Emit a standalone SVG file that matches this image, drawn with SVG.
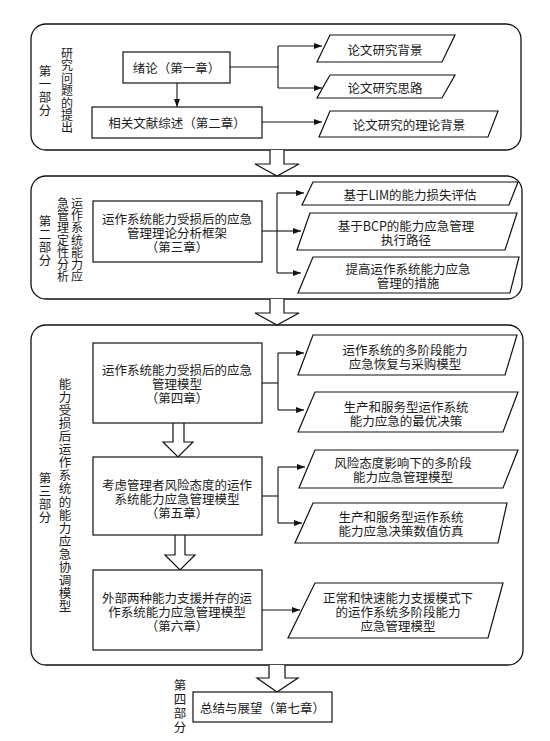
<svg xmlns="http://www.w3.org/2000/svg" width="550" height="741" viewBox="0 0 550 741">
<defs>
<marker id="ah" markerUnits="userSpaceOnUse" markerWidth="8" markerHeight="6" refX="8" refY="3" orient="auto">
<path d="M0,0 L8,3 L0,6 z" fill="#111"/>
</marker>
<style>
.sec{fill:none;stroke:#111;stroke-width:1.3}
.box{fill:#fff;stroke:#111;stroke-width:1.2}
.par{fill:#fff;stroke:#111;stroke-width:1.2}
.ln{fill:none;stroke:#111;stroke-width:1.1}
.arr{fill:none;stroke:#111;stroke-width:1.1;marker-end:url(#ah)}
.hol{fill:#fff;stroke:#111;stroke-width:1.2}
text{font-family:"Noto Sans CJK SC","Liberation Sans",sans-serif;font-size:12.5px;fill:#1a1a1a;text-anchor:middle;dominant-baseline:central}
</style>
</defs>
<rect width="550" height="741" fill="#fff"/>

<g id="section1">
<rect class="sec" x="31" y="24" width="490" height="126" rx="15"/>
<text><tspan x="45" y="70">第</tspan><tspan x="45" y="83">一</tspan><tspan x="45" y="96">部</tspan><tspan x="45" y="109">分</tspan></text>
<text style="font-size:12px"><tspan x="67" y="52">研</tspan><tspan x="67" y="64.4">究</tspan><tspan x="67" y="76.8">问</tspan><tspan x="67" y="89.2">题</tspan><tspan x="67" y="101.6">的</tspan><tspan x="67" y="114">提</tspan><tspan x="67" y="126.4">出</tspan></text>
</g>
<g id="section2">
<rect class="sec" x="31" y="176" width="491" height="123" rx="15"/>
<text><tspan x="45" y="220">第</tspan><tspan x="45" y="233">二</tspan><tspan x="45" y="246">部</tspan><tspan x="45" y="259">分</tspan></text>
<text style="font-size:12px"><tspan x="77" y="202">运</tspan><tspan x="77" y="214.2">作</tspan><tspan x="77" y="226.4">系</tspan><tspan x="77" y="238.6">统</tspan><tspan x="77" y="250.8">能</tspan><tspan x="77" y="263">力</tspan><tspan x="77" y="275.2">应</tspan></text>
<text style="font-size:12px"><tspan x="63" y="202">急</tspan><tspan x="63" y="214.2">管</tspan><tspan x="63" y="226.4">理</tspan><tspan x="63" y="238.6">定</tspan><tspan x="63" y="250.8">性</tspan><tspan x="63" y="263">分</tspan><tspan x="63" y="275.2">析</tspan></text>
</g>
<g id="section3">
<rect class="sec" x="31" y="325" width="492" height="340" rx="15"/>
<text><tspan x="45" y="477">第</tspan><tspan x="45" y="490">三</tspan><tspan x="45" y="503">部</tspan><tspan x="45" y="516">分</tspan></text>
<text><tspan x="65" y="383">能</tspan><tspan x="65" y="396.06">力</tspan><tspan x="65" y="409.12">受</tspan><tspan x="65" y="422.18">损</tspan><tspan x="65" y="435.24">后</tspan><tspan x="65" y="448.3">运</tspan><tspan x="65" y="461.36">作</tspan><tspan x="65" y="474.42">系</tspan><tspan x="65" y="487.48">统</tspan><tspan x="65" y="500.54">的</tspan><tspan x="65" y="513.6">能</tspan><tspan x="65" y="526.66">力</tspan><tspan x="65" y="539.72">应</tspan><tspan x="65" y="552.78">急</tspan><tspan x="65" y="565.84">协</tspan><tspan x="65" y="578.9">调</tspan><tspan x="65" y="591.96">模</tspan><tspan x="65" y="605">型</tspan></text>
</g>
<g id="section4">
<text><tspan x="180" y="684">第</tspan><tspan x="180" y="698">四</tspan><tspan x="180" y="712">部</tspan><tspan x="180" y="726">分</tspan></text>
</g>

<g id="connectors">
<line class="arr" x1="177" y1="83" x2="177" y2="107"/>
<polyline class="ln" points="230,67 278,67"/>
<line class="ln" x1="278" y1="46" x2="278" y2="88"/>
<line class="arr" x1="278" y1="46" x2="322" y2="46"/>
<line class="arr" x1="278" y1="88" x2="322" y2="88"/>
<line class="arr" x1="262" y1="122" x2="322" y2="122"/>

<line class="ln" x1="262" y1="231" x2="277" y2="231"/>
<line class="ln" x1="277" y1="193" x2="277" y2="273"/>
<line class="arr" x1="277" y1="193" x2="304" y2="193"/>
<line class="arr" x1="277" y1="231" x2="301" y2="231"/>
<line class="arr" x1="277" y1="273" x2="301" y2="273"/>

<line class="ln" x1="262" y1="383" x2="278" y2="383"/>
<line class="ln" x1="278" y1="353" x2="278" y2="410"/>
<line class="arr" x1="278" y1="353" x2="304" y2="353"/>
<line class="arr" x1="278" y1="410" x2="304" y2="410"/>

<line class="ln" x1="262" y1="496" x2="278" y2="496"/>
<line class="ln" x1="278" y1="467" x2="278" y2="523"/>
<line class="arr" x1="278" y1="467" x2="305" y2="467"/>
<line class="arr" x1="278" y1="523" x2="302" y2="523"/>

<line class="arr" x1="262" y1="610" x2="300" y2="610"/>

<path class="hol" d="M270,150 V164 H255 L277,176 L299,164 H284 V150"/>
<path class="hol" d="M270,299 V313 H255 L277,325 L299,313 H284 V299"/>
<path class="hol" d="M173,423 V442 H163 L178,457 L193,442 H184 V423"/>
<path class="hol" d="M175,535 V555 H165 L180,570 L195,555 H185 V535"/>
<path class="hol" d="M269,665 V678 H257 L277,692 L298,678 H285 V665"/>
</g>

<g id="n-xulun">
<rect class="box" x="123" y="52" width="107" height="31"/>
<text x="176.5" y="67.5">绪论（第一章）</text>
</g>
<g id="n-wenxian">
<rect class="box" x="92" y="107" width="170" height="31"/>
<text x="177" y="122.5">相关文献综述（第二章）</text>
</g>
<g id="n-beijing">
<polygon class="par" points="330,35 455,35 442,62 317,62"/>
<text x="385" y="49">论文研究背景</text>
</g>
<g id="n-silu">
<polygon class="par" points="330,75 455,75 442,98 317,98"/>
<text x="385" y="87">论文研究思路</text>
</g>
<g id="n-lilun">
<polygon class="par" points="330,111 498,111 488,137 319,137"/>
<text x="409" y="124">论文研究的理论背景</text>
</g>

<g id="n-ch3">
<rect class="box" x="93" y="201" width="169" height="61"/>
<text x="177" y="218">运作系统能力受损后的应急</text>
<text x="177" y="232">管理理论分析框架</text>
<text x="177" y="246">（第三章）</text>
</g>
<g id="n-lim">
<polygon class="par" points="313,182 518,182 509,205 302,205"/>
<text x="410" y="194">基于LIM的能力损失评估</text>
</g>
<g id="n-bcp">
<polygon class="par" points="310,213 517,213 505,250 297,250"/>
<text x="406" y="225">基于BCP的能力应急管理</text>
<text x="406" y="239">执行路径</text>
</g>
<g id="n-cuoshi">
<polygon class="par" points="313,257 519,257 510,293 298,293"/>
<text x="408" y="268">提高运作系统能力应急</text>
<text x="408" y="282">管理的措施</text>
</g>

<g id="n-ch4">
<rect class="box" x="93" y="343" width="169" height="80"/>
<text x="177" y="369">运作系统能力受损后的应急</text>
<text x="177" y="383">管理模型</text>
<text x="177" y="397">（第四章）</text>
</g>
<g id="n-p4a">
<polygon class="par" points="313,335 517,335 505,375 298,375"/>
<text x="405" y="349">运作系统的多阶段能力</text>
<text x="405" y="363">应急恢复与采购模型</text>
</g>
<g id="n-p4b">
<polygon class="par" points="315,392 518,392 503,432 298,432"/>
<text x="406" y="406">生产和服务型运作系统</text>
<text x="406" y="420">能力应急的最优决策</text>
</g>

<g id="n-ch5">
<rect class="box" x="93" y="457" width="169" height="78"/>
<text x="177" y="484">考虑管理者风险态度的运作</text>
<text x="177" y="498">系统能力应急管理模型</text>
<text x="177" y="512">（第五章）</text>
</g>
<g id="n-p5a">
<polygon class="par" points="315,450 518,450 503,488 299,488"/>
<text x="403" y="462">风险态度影响下的多阶段</text>
<text x="403" y="476">能力应急管理模型</text>
</g>
<g id="n-p5b">
<polygon class="par" points="313,503 507,503 498,543 295,543"/>
<text x="401" y="516">生产和服务型运作系统</text>
<text x="401" y="530">能力应急决策数值仿真</text>
</g>

<g id="n-ch6">
<rect class="box" x="93" y="570" width="169" height="80"/>
<text x="177" y="597">外部两种能力支援并存的运</text>
<text x="177" y="611">作系统能力应急管理模型</text>
<text x="177" y="625">（第六章）</text>
</g>
<g id="n-p6">
<polygon class="par" points="315,583 503,583 488,638 288,638"/>
<text x="398" y="597">正常和快速能力支援模式下</text>
<text x="398" y="611">的运作系统多阶段能力</text>
<text x="398" y="625">应急管理模型</text>
</g>

<g id="n-ch7">
<rect class="box" x="193" y="692" width="139" height="30"/>
<text x="262.5" y="707">总结与展望（第七章）</text>
</g>
</svg>
